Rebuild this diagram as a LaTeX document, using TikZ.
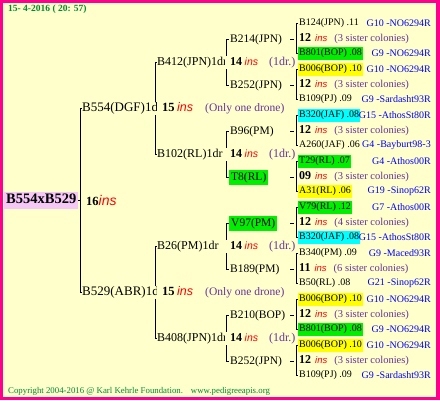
\documentclass[tikz,border=0pt]{standalone}
\usepackage{fontspec}
\setmainfont{Liberation Serif}
\newfontfamily\insfont{Liberation Sans}
\usepackage{tikz}
\usetikzlibrary{positioning,backgrounds}

\definecolor{bg}{RGB}{255,255,204}
\definecolor{frame}{RGB}{255,0,140}
\definecolor{rootpink}{RGB}{246,200,246}
\definecolor{hlgreen}{RGB}{0,238,0}
\definecolor{hlyellow}{RGB}{255,255,0}
\definecolor{hlcyan}{RGB}{0,255,255}
\definecolor{insred}{RGB}{255,0,0}
\definecolor{drone}{RGB}{102,51,153}
\definecolor{gblue}{RGB}{0,0,255}
\definecolor{stamp}{RGB}{0,136,51}

\newcommand{\redins}[1]{{\insfont\itshape\fontsize{#1}{#1}\selectfont\color{insred}ins}}
\newcommand{\sis}[2]{{\fontsize{12}{14}\selectfont\bfseries #1}\hspace{4pt}\redins{9.5}\hspace{7pt}{\fontsize{10.5}{12}\selectfont\color{drone}(#2 sister colonies)}}
\newcommand{\onedr}{{\fontsize{12}{14}\selectfont\bfseries 14}\hspace{2.5pt}\redins{10.5}\hspace{11pt}{\fontsize{12}{14}\selectfont\color{drone}(1dr.)}}
\newcommand{\onlydr}{{\fontsize{12.5}{14}\selectfont\bfseries 15}\hspace{2.5pt}\redins{12.5}\hspace{12pt}{\fontsize{11.5}{14}\selectfont\color{drone}(Only one drone)}}

\begin{document}
\begin{tikzpicture}[x=1pt,y=-1pt,
    lvl/.style={anchor=west,inner xsep=0pt,inner ysep=0.5pt,fill=bg,text height=9pt,text depth=3pt},
    tag/.style={anchor=west,inner xsep=5pt,inner ysep=0.5pt,fill=bg,text height=9pt,text depth=3pt},
    leaf/.style={anchor=west,inner xsep=1pt,inner ysep=1.5pt,font=\fontsize{10}{12}\selectfont,text height=7.5pt,text depth=2.5pt},
    src/.style={anchor=east,inner sep=0pt,font=\fontsize{10}{12}\selectfont,text=gblue},
    hlg/.style={fill=hlgreen},
    hly/.style={fill=hlyellow},
    hlc/.style={fill=hlcyan},
    link/.style={line width=0.8pt}]
  \useasboundingbox (0,0) rectangle (440,400);

  % stamps
  \node[anchor=west,inner sep=0pt,text=stamp,font=\fontsize{9.5}{11}\selectfont\bfseries] (date) at (8,9) {15- 4-2016 ( 20: 57)};
  \node[anchor=west,inner sep=0pt,text=stamp,font=\fontsize{8.8}{10}\selectfont] (copy) at (8,391)
    {Copyright 2004-2016 @ Karl Kehrle Foundation.\hspace{8pt}www.pedigreeapis.org};

  % root
  \node[anchor=west,fill=rootpink,inner xsep=2pt,inner ysep=2pt,text height=10pt,text depth=3pt,
        font=\fontsize{14.5}{16}\selectfont\bfseries] (root) at (4,200) {B554xB529};
  \node[anchor=west,inner sep=0pt] (r16) at (86,200) {{\fontsize{12.5}{14}\selectfont\bfseries 16}\redins{14}};

  % queens and drone sources
  \node[lvl,font=\fontsize{13}{15}\selectfont] (b554) at (82,108) {B554(DGF)1dr};
  \node[tag] (d554) at (157,108) {\onlydr};
  \node[lvl,font=\fontsize{13}{15}\selectfont] (b529) at (82,292) {B529(ABR)1dr};
  \node[tag] (d529) at (157,292) {\onlydr};

  \node[lvl,font=\fontsize{12}{14}\selectfont] (b412) at (157,62) {B412(JPN)1dr};
  \node[tag] (d412) at (225,62) {\onedr};
  \node[lvl,font=\fontsize{12}{14}\selectfont] (b102) at (157,154) {B102(RL)1dr};
  \node[tag] (d102) at (225,154) {\onedr};
  \node[lvl,font=\fontsize{12}{14}\selectfont] (b26) at (157,246) {B26(PM)1dr};
  \node[tag] (d26) at (225,246) {\onedr};
  \node[lvl,font=\fontsize{12}{14}\selectfont] (b408) at (157,338) {B408(JPN)1dr};
  \node[tag] (d408) at (225,338) {\onedr};

  \node[lvl,inner xsep=1pt,font=\fontsize{11.5}{14}\selectfont] (b214) at (229,39) {B214(JPN)};
  \node[lvl,inner xsep=1pt,font=\fontsize{11.5}{14}\selectfont] (b252) at (229,85) {B252(JPN)};
  \node[lvl,inner xsep=1pt,font=\fontsize{11.5}{14}\selectfont] (b96) at (229,131) {B96(PM)};
  \node[lvl,inner xsep=2pt,inner ysep=1.5pt,hlg,font=\fontsize{11.5}{14}\selectfont] (t8) at (229,177) {T8(RL)};
  \node[lvl,inner xsep=2pt,inner ysep=1.5pt,hlg,font=\fontsize{11.5}{14}\selectfont] (v97) at (229,223) {V97(PM)};
  \node[lvl,inner xsep=1pt,font=\fontsize{11.5}{14}\selectfont] (b189) at (229,269) {B189(PM)};
  \node[lvl,inner xsep=1pt,font=\fontsize{11.5}{14}\selectfont] (b210) at (229,315) {B210(BOP)};
  \node[lvl,inner xsep=1pt,font=\fontsize{11.5}{14}\selectfont] (b252x) at (229,361) {B252(JPN)};

  % grandparents
  \node[leaf] (a1) at (298,23) {B124(JPN) .11};       \node[src] (ga1) at (431,23) {G10 -NO6294R};
  \node[leaf] (n1) at (298,39) {\sis{12}{3}};
  \node[leaf,hlg] (z1) at (298,53) {B801(BOP) .08};   \node[src] (gz1) at (431,53) {G9 -NO6294R};

  \node[leaf,hly] (a2) at (298,69) {B006(BOP) .10};   \node[src] (ga2) at (431,69) {G10 -NO6294R};
  \node[leaf] (n2) at (298,85) {\sis{12}{3}};
  \node[leaf] (z2) at (298,99) {B109(PJ) .09};        \node[src] (gz2) at (431,99) {G9 -Sardasht93R};

  \node[leaf,hlc] (a3) at (298,115) {B320(JAF) .08};  \node[src] (ga3) at (431,115) {G15 -AthosSt80R};
  \node[leaf] (n3) at (298,131) {\sis{12}{3}};
  \node[leaf] (z3) at (298,145) {A260(JAF) .06};      \node[src] (gz3) at (431,145) {G4 -Bayburt98-3};

  \node[leaf,hlg] (a4) at (298,161) {T29(RL) .07};    \node[src] (ga4) at (431,161) {G4 -Athos00R};
  \node[leaf] (n4) at (298,177) {\sis{09}{3}};
  \node[leaf,hly] (z4) at (298,191) {A31(RL) .06};    \node[src] (gz4) at (431,191) {G19 -Sinop62R};

  \node[leaf,hlg] (a5) at (298,207) {V79(RL) .12};    \node[src] (ga5) at (431,207) {G7 -Athos00R};
  \node[leaf] (n5) at (298,223) {\sis{12}{4}};
  \node[leaf,hlc] (z5) at (298,237) {B320(JAF) .08};  \node[src] (gz5) at (431,237) {G15 -AthosSt80R};

  \node[leaf] (a6) at (298,253) {B340(PM) .09};       \node[src] (ga6) at (431,253) {G9 -Maced93R};
  \node[leaf] (n6) at (298,269) {\sis{11}{6}};
  \node[leaf] (z6) at (298,283) {B50(RL) .08};        \node[src] (gz6) at (431,283) {G21 -Sinop62R};

  \node[leaf,hly] (a7) at (298,299) {B006(BOP) .10};  \node[src] (ga7) at (431,299) {G10 -NO6294R};
  \node[leaf] (n7) at (298,315) {\sis{12}{3}};
  \node[leaf,hlg] (z7) at (298,329) {B801(BOP) .08};  \node[src] (gz7) at (431,329) {G9 -NO6294R};

  \node[leaf,hly] (a8) at (298,345) {B006(BOP) .10};  \node[src] (ga8) at (431,345) {G10 -NO6294R};
  \node[leaf] (n8) at (298,361) {\sis{12}{3}};
  \node[leaf] (z8) at (298,375) {B109(PJ) .09};       \node[src] (gz8) at (431,375) {G9 -Sardasht93R};

  % frame and connectors
  \begin{scope}[on background layer]
    \fill[frame] (0,0) rectangle (440,400);
    \fill[bg] (3,3) rectangle (436,397);
    \coordinate (j0) at ([xshift=-2pt]b554.west);
    \draw[link] (b554.west) -- ++(-2,0) |- (b529.west);
    \draw[link] (root.east) -- (root.east -| j0);
    \draw[link] (b412.west) -- ++(-2,0) |- (b102.west);
    \draw[link] (b26.west) -- ++(-2,0) |- (b408.west);
    \draw[link] (b214.west) -- ++(-3,0) |- (b252.west);
    \draw[link] (b96.west) -- ++(-3,0) |- (t8.west);
    \draw[link] (v97.west) -- ++(-3,0) |- (b189.west);
    \draw[link] (b210.west) -- ++(-3,0) |- (b252x.west);
    \foreach \g in {1,...,8}{
      \draw[link] (a\g.west) -- ++(-2,0) |- (z\g.west);
      \draw[link] ([xshift=-8pt]n\g.west) -- ([xshift=-4pt]n\g.west);
    }
  \end{scope}
\end{tikzpicture}
\end{document}
